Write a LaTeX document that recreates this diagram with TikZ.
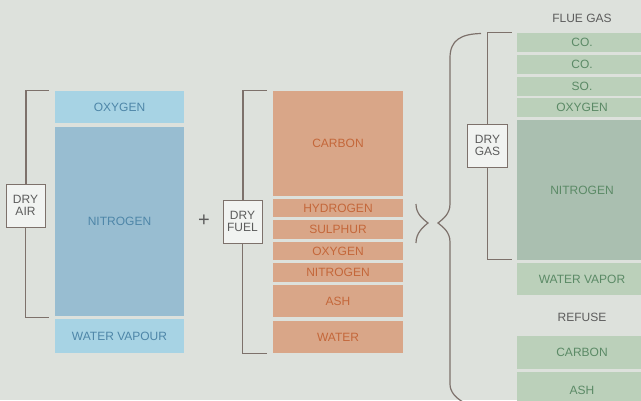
\documentclass[tikz,border=0pt]{standalone}
\usepackage{fontspec}
\setmainfont{Liberation Sans}
\definecolor{bgcol}{HTML}{DDE1DC}
\definecolor{airlt}{HTML}{A7D3E4}
\definecolor{airdk}{HTML}{98BDD1}
\definecolor{airtx}{HTML}{4E86A8}
\definecolor{fuelbg}{HTML}{D9A688}
\definecolor{fueltx}{HTML}{C4673A}
\definecolor{gaslt}{HTML}{BBD0BA}
\definecolor{gasdk}{HTML}{AABFB0}
\definecolor{gastx}{HTML}{5B8A66}
\definecolor{brk}{HTML}{7D716B}
\definecolor{lbltx}{HTML}{5C5C5C}
\tikzset{
  blk/.style={rectangle,inner sep=0pt,font=\fontsize{12}{13}\selectfont},
  grpbox/.style={draw=brk,fill=white!60!bgcol,line width=1pt,inner sep=0pt,
    minimum width=39pt,minimum height=43pt,align=center,text=lbltx,
    font=\fontsize{12}{12.5}\selectfont},
  brack/.style={draw=brk,line width=1.2pt},
  head/.style={text=lbltx,font=\fontsize{12}{13}\selectfont}
}
\begin{document}
\begin{tikzpicture}[x=1pt,y=-1pt]
\fill[bgcol] (0,0) rectangle (641,400);
\useasboundingbox (0,0) rectangle (641,400);
% air
\foreach \n/\y/\h/\c/\t in {airO/107/32/airlt/OXYGEN,airN/221.5/189/airdk/NITROGEN,
  airW/336/34/airlt/WATER VAPOUR}
  \node[blk,fill=\c,text=airtx,minimum width=129pt,minimum height=\h pt] (\n) at (119.5,\y) {\t};
% fuel
\foreach \n/\y/\h/\t in {fC/143.5/105/CARBON,fH/208/18/HYDROGEN,fS/229.5/19/SULPHUR,
  fO/251/18/OXYGEN,fN/272.5/19/NITROGEN,fA/301/32/ASH,fW/337/32/WATER}
  \node[blk,fill=fuelbg,text=fueltx,minimum width=130pt,minimum height=\h pt] (\n) at (338,\y) {\t};
% flue gas and refuse
\foreach \n/\y/\h/\c/\t in {gC/42.5/19/gaslt/CO.,gCb/64.5/19/gaslt/CO.,gS/86.5/19/gaslt/SO.,
  gO/107.5/19/gaslt/OXYGEN,gN/190/140/gasdk/NITROGEN,gW/279/32/gaslt/WATER VAPOR,
  rC/352.5/33/gaslt/CARBON,rA/390/36/gaslt/ASH}
  \node[blk,fill=\c,text=gastx,minimum width=130pt,minimum height=\h pt] (\n) at (582,\y) {\t};
\node[head] (flue) at (582,18) {FLUE GAS};
\node[head] (refuse) at (582,317) {REFUSE};
\node[text=lbltx,font=\fontsize{20}{20}\selectfont] (plus) at (204,221) {+};
% brackets
\node[grpbox] (airbox) at (25.5,205.5) {DRY\\AIR};
\node[grpbox] (fuelbox) at (242.5,221.5) {DRY\\FUEL};
\node[grpbox,minimum width=40pt] (gasbox) at (487.5,145.5) {DRY\\GAS};
\draw[brack] ([xshift=-6pt]airO.north west) -| ([xshift=.5pt]airbox.north)
  (airbox.south) |- ([xshift=-6pt,yshift=-1pt]airN.south west);
\draw[brack] ([xshift=-6pt]fC.north west) -| ([xshift=.5pt]fuelbox.north)
  (fuelbox.south) |- ([xshift=-6pt]fW.south west);
\draw[brack] ([xshift=-5pt]gC.north west) -| (gasbox.north)
  (gasbox.south) |- ([xshift=-5pt,yshift=1pt]gN.south west);
% big brace
\draw[brack] (481,33.5) .. controls (461,34) and (450,40) .. (450,58) -- (450,204)
  .. controls (450,214) and (443,219) .. (438,223) .. controls (443,227) and (450,232) .. (450,242)
  -- (450,384) .. controls (450,392) and (456,398) .. (463,402);
\draw[brack] (416,204) .. controls (416,214) and (423,219) .. (428,223)
  .. controls (423,227) and (416,233) .. (416,243);
\end{tikzpicture}
\end{document}
